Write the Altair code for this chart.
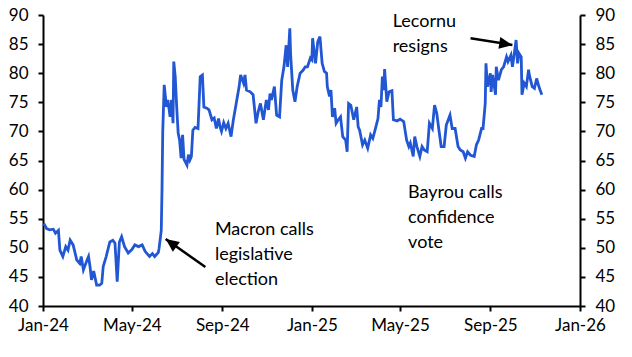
import altair as alt
import pandas as pd

dates = [
    "2024-01-02", "2024-01-06", "2024-01-10", "2024-01-15", "2024-01-18", "2024-01-22", "2024-01-24",
    "2024-01-28", "2024-02-01", "2024-02-04", "2024-02-07", "2024-02-11", "2024-02-16", "2024-02-20",
    "2024-02-22", "2024-02-25", "2024-03-01", "2024-03-03", "2024-03-05", "2024-03-07", "2024-03-10",
    "2024-03-14", "2024-03-18", "2024-03-21", "2024-03-23", "2024-03-27", "2024-04-01", "2024-04-05",
    "2024-04-08", "2024-04-11", "2024-04-14", "2024-04-17", "2024-04-21", "2024-04-26", "2024-05-01",
    "2024-05-05", "2024-05-10", "2024-05-15", "2024-05-19", "2024-05-25", "2024-05-29", "2024-06-01",
    "2024-06-06", "2024-06-07", "2024-06-10", "2024-06-11", "2024-06-12", "2024-06-14",
    "2024-06-17", "2024-06-19", "2024-06-22", "2024-06-24", "2024-06-26", "2024-06-27", "2024-06-29",
    "2024-07-01", "2024-07-03", "2024-07-05", "2024-07-07", "2024-07-09", "2024-07-11", "2024-07-15",
    "2024-07-17", "2024-07-19", "2024-07-21", "2024-07-23", "2024-07-26", "2024-07-30", "2024-08-02",
    "2024-08-05", "2024-08-07", "2024-08-11", "2024-08-14", "2024-08-18", "2024-08-21", "2024-08-24",
    "2024-08-27", "2024-08-29", "2024-08-31", "2024-09-03", "2024-09-06", "2024-09-09", "2024-09-13",
    "2024-09-16", "2024-09-20", "2024-09-24", "2024-09-26", "2024-09-30", "2024-10-02", "2024-10-04",
    "2024-10-09", "2024-10-13", "2024-10-17", "2024-10-20", "2024-10-23", "2024-10-27", "2024-10-31",
    "2024-11-03", "2024-11-05", "2024-11-07", "2024-11-11", "2024-11-14", "2024-11-18", "2024-11-21",
    "2024-11-24", "2024-11-27", "2024-11-29", "2024-12-02", "2024-12-03", "2024-12-06", "2024-12-09",
    "2024-12-12", "2024-12-16", "2024-12-20", "2024-12-23", "2024-12-26", "2024-12-30", "2025-01-01",
    "2025-01-02", "2025-01-06", "2025-01-09", "2025-01-12", "2025-01-15", "2025-01-18", "2025-01-21",
    "2025-01-22", "2025-01-25", "2025-01-27", "2025-01-29", "2025-02-01", "2025-02-03", "2025-02-06",
    "2025-02-09", "2025-02-12", "2025-02-16", "2025-02-18", "2025-02-20", "2025-02-23", "2025-02-27",
    "2025-03-03", "2025-03-05", "2025-03-07", "2025-03-11", "2025-03-14", "2025-03-18", "2025-03-22",
    "2025-03-25", "2025-03-28", "2025-04-01", "2025-04-03", "2025-04-05", "2025-04-07", "2025-04-09",
    "2025-04-10", "2025-04-13", "2025-04-16", "2025-04-20", "2025-04-22", "2025-04-27", "2025-05-01",
    "2025-05-06", "2025-05-10", "2025-05-13", "2025-05-15", "2025-05-19", "2025-05-21", "2025-05-24",
    "2025-05-28", "2025-05-31", "2025-06-03", "2025-06-07", "2025-06-10", "2025-06-14", "2025-06-17",
    "2025-06-20", "2025-06-23", "2025-06-26", "2025-06-30", "2025-07-03", "2025-07-08", "2025-07-11",
    "2025-07-15", "2025-07-19", "2025-07-22", "2025-07-26", "2025-07-29", "2025-08-01", "2025-08-05",
    "2025-08-10", "2025-08-13", "2025-08-16", "2025-08-20", "2025-08-22", "2025-08-25", "2025-08-26",
    "2025-08-28", "2025-09-01", "2025-09-02", "2025-09-04", "2025-09-08", "2025-09-09", "2025-09-12",
    "2025-09-16", "2025-09-19", "2025-09-23", "2025-09-25", "2025-09-29", "2025-10-01", "2025-10-03",
    "2025-10-06", "2025-10-08", "2025-10-10", "2025-10-13", "2025-10-14", "2025-10-17", "2025-10-20",
    "2025-10-23", "2025-10-24", "2025-10-28", "2025-10-31", "2025-11-03", "2025-11-06", "2025-11-10",
]

values = [
    54.2, 53.3, 53.1, 53.2, 52.5, 53.0, 49.6,
    48.5, 50.2, 49.6, 51.3, 50.5, 47.9, 47.3,
    48.5, 46.2, 47.9, 48.5, 46.8, 44.5, 46.0,
    43.6, 43.6, 43.9, 46.8, 48.5, 51.0, 51.3,
    50.8, 44.2, 51.0, 51.9, 50.2, 49.1, 49.7,
    50.5, 50.2, 50.5, 49.4, 48.5, 49.0, 48.5,
    49.2, 49.9, 53.0, 60.0, 70.0, 78.0,
    74.2, 75.4, 72.5, 75.4, 71.4, 82.0, 79.4,
    74.2, 69.7, 68.5, 65.4, 69.4, 65.2, 64.2,
    66.0, 65.1, 65.7, 70.2, 70.7, 70.5, 79.4,
    79.7, 74.2, 74.0, 73.7, 72.0, 72.3, 70.5,
    72.2, 70.8, 70.0, 71.5, 70.5, 71.4, 69.1,
    71.9, 74.8, 77.7, 79.7, 78.3, 79.7, 77.1,
    76.8, 76.3, 71.4, 73.4, 74.8, 72.0, 75.4,
    73.7, 76.5, 75.4, 77.7, 72.8, 72.5, 78.8,
    81.1, 84.8, 81.1, 87.7, 83.4, 77.1, 75.1,
    77.7, 80.0, 80.5, 81.1, 81.1, 82.6, 82.3,
    86.0, 81.7, 85.4, 86.3, 81.7, 80.3, 80.0,
    77.7, 76.0, 77.1, 72.5, 74.0, 71.4, 72.0,
    72.5, 69.1, 68.5, 66.5, 74.8, 74.5, 72.0,
    74.2, 70.8, 70.2, 67.7, 68.5, 67.1, 69.4,
    68.8, 70.2, 72.2, 75.4, 74.2, 79.4, 77.1,
    80.7, 75.1, 76.8, 77.0, 72.0, 71.8, 72.1,
    71.7, 68.5, 67.4, 68.0, 65.7, 69.1, 67.4,
    65.7, 67.4, 66.8, 66.5, 71.4, 70.5, 74.5,
    73.1, 70.2, 67.4, 67.4, 71.1, 72.8, 70.5,
    70.5, 67.4, 66.8, 66.5, 65.4, 66.5, 65.9,
    65.7, 67.7, 68.5, 70.5, 70.5, 74.8, 81.7,
    77.7, 80.0, 76.8, 79.7, 76.3, 81.1, 78.8,
    80.6, 81.1, 82.8, 82.0, 83.1, 81.1, 82.8,
    85.7, 81.7, 83.4, 82.8, 76.3, 78.3, 77.7,
    80.6, 79.7, 77.7, 77.4, 79.1, 77.7, 76.3,
]

y_ticks = [40, 45, 50, 55, 60, 65, 70, 75, 80, 85, 90]
x_tick_dates = [(2024, 1), (2024, 5), (2024, 9), (2025, 1), (2025, 5), (2025, 9), (2026, 1)]

annotation_texts = ["Macron calls\nlegislative\nelection", "Bayrou calls\nconfidence\nvote", "Lecornu\nresigns"]
annotation_dates = ["2024-08-22", "2025-05-12", "2025-04-21"]
annotation_values = [54.6, 61.0, 90.3]

arrow_tail_dates = ["2024-08-09", "2025-08-05"]
arrow_tail_values = [46.7, 86.0]
arrow_head_dates = ["2024-06-16", "2025-10-01"]
arrow_head_values = [51.5, 84.85]

df = pd.DataFrame({"date": pd.to_datetime(dates), "value": values})
ann = pd.DataFrame({"date": pd.to_datetime(annotation_dates), "value": annotation_values,
                    "text": annotation_texts})
arrows = pd.DataFrame({
    "x": pd.to_datetime(arrow_tail_dates), "y": arrow_tail_values,
    "x2": pd.to_datetime(arrow_head_dates), "y2": arrow_head_values,
})

FONT = "Lato"
xscale = alt.Scale(domain=[alt.DateTime(year=2024, month=1, date=1),
                           alt.DateTime(year=2026, month=1, date=1)], nice=False)
yscale = alt.Scale(domain=[40, 90], nice=False, zero=False)

x_axis = alt.Axis(title=None, format="%b-%y",
                  values=[alt.DateTime(year=y, month=m, date=1) for y, m in x_tick_dates],
                  labelPadding=6, labelFlush=False)

line = alt.Chart(df).mark_line(color="#2257D4", strokeWidth=2.8).encode(
    x=alt.X("date:T", scale=xscale, axis=x_axis),
    y=alt.Y("value:Q", scale=yscale,
            axis=alt.Axis(title=None, orient="left", values=y_ticks, labelPadding=10,
                          labelFlush=False)),
)

right = alt.Chart(df).mark_line(opacity=0).encode(
    x=alt.X("date:T", scale=xscale, axis=x_axis),
    y=alt.Y("value:Q", scale=yscale,
            axis=alt.Axis(title=None, orient="right", values=y_ticks, labelPadding=10,
                          labelFlush=False)),
)

texts = alt.Chart(ann).mark_text(align="left", baseline="top", lineBreak="\n", lineHeight=25,
                                 fontSize=18, font=FONT, color="black").encode(
    x=alt.X("date:T", scale=xscale, axis=x_axis),
    y=alt.Y("value:Q", scale=yscale, axis=None),
    text="text:N",
)

rules = alt.Chart(arrows).mark_rule(color="black", strokeWidth=2.5).encode(
    x=alt.X("x:T", scale=xscale, axis=x_axis), y=alt.Y("y:Q", scale=yscale, axis=None),
    x2="x2:T", y2="y2:Q",
)

head_shape = "M0,0 L-1,2.2 L1,2.2 Z"
head1 = alt.Chart(arrows.iloc[[0]]).mark_point(shape=head_shape, filled=True, color="black",
                                               opacity=1, size=144, angle=306).encode(
    x=alt.X("x2:T", scale=xscale, axis=x_axis), y=alt.Y("y2:Q", scale=yscale, axis=None))
head2 = alt.Chart(arrows.iloc[[1]]).mark_point(shape=head_shape, filled=True, color="black",
                                               opacity=1, size=144, angle=99).encode(
    x=alt.X("x2:T", scale=xscale, axis=x_axis), y=alt.Y("y2:Q", scale=yscale, axis=None))

chart = alt.layer(line, right, rules, head1, head2, texts).resolve_axis(y="independent").properties(
    width=537, height=291,
    autosize=alt.AutoSizeParams(type="none"),
    padding={"left": 35, "top": 7, "right": 44, "bottom": 43},
).configure_view(strokeWidth=0).configure_axis(
    grid=False, domainColor="black", domainWidth=2, tickColor="black", tickWidth=2, tickSize=5,
    labelFont=FONT, labelFontSize=17, labelColor="black", labelFlush=False,
)

chart.save("out.html", embed_options={"renderer": "svg", "actions": False})
